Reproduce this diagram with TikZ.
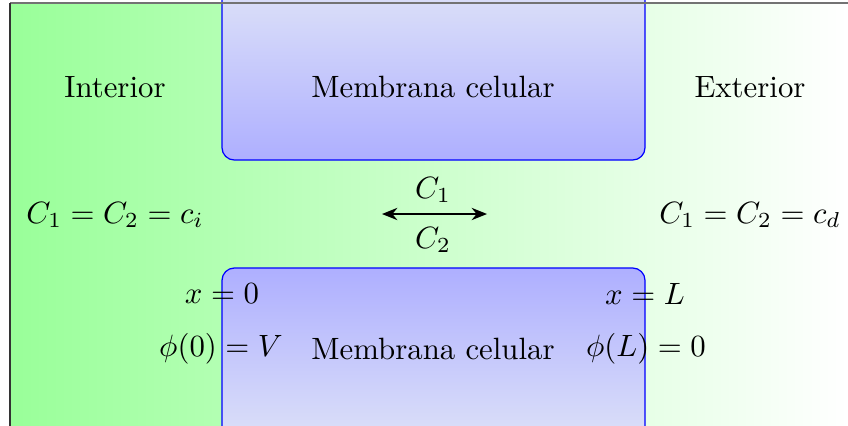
\documentclass[tikz,border=0pt]{standalone}
\usetikzlibrary{arrows.meta}
\definecolor{memtop}{RGB}{228,233,247}
\definecolor{membot}{RGB}{174,175,255}
\tikzset{
  membox/.style={draw=blue, line width=0.4pt, rounded corners=4pt},
  lbl/.style={inner sep=0pt, anchor=center},
}
\begin{document}
\begin{tikzpicture}[x=0.3246pt, y=-0.3246pt]
\useasboundingbox (0,0) rectangle (848,425);
\clip (0,0) rectangle (848,425);
% background
\shade[left color=green!40, right color=white] (10,3) rectangle (848,480);
% membranes
\shade[membox, top color=memtop, bottom color=membot] (222,-40) rectangle (645,160);
\shade[membox, top color=membot, bottom color=memtop] (222,268) rectangle (645,470);
% frame
\draw[black!55, line width=0.4pt] (900,3) -- (10,3);
\draw[black!80, line width=0.4pt] (10,3) -- (10,480);
% texts
\node[lbl] (int) at (115,87) {Interior};
\node[lbl] (mem1) at (433,87) {Membrana celular};
\node[lbl] (ext) at (750,87) {Exterior};
\node[lbl] (ci) at (115,215) {$C_1 = C_2 = c_i$};
\node[lbl] (cd) at (750,215) {$C_1 = C_2 = c_d$};
\coordinate (al) at (382,214);
\coordinate (ar) at (487,214);
\draw[{Stealth[length=5pt,width=4pt]}-{Stealth[length=5pt,width=4pt]}, line width=0.5pt] (al) -- (ar);
\node[lbl] (c1) at (433,190) {$C_1$};
\node[lbl] (c2) at (433,240) {$C_2$};
\node[lbl] (x0) at (222,294) {$x = 0$};
\node[lbl] (xL) at (645,294) {$x = L$};
\node[lbl] (phi0) at (221,349) {$\phi(0) = V$};
\node[lbl] (mem2) at (433,349) {Membrana celular};
\node[lbl] (phiL) at (646,349) {$\phi(L) = 0$};
\end{tikzpicture}
\end{document}
